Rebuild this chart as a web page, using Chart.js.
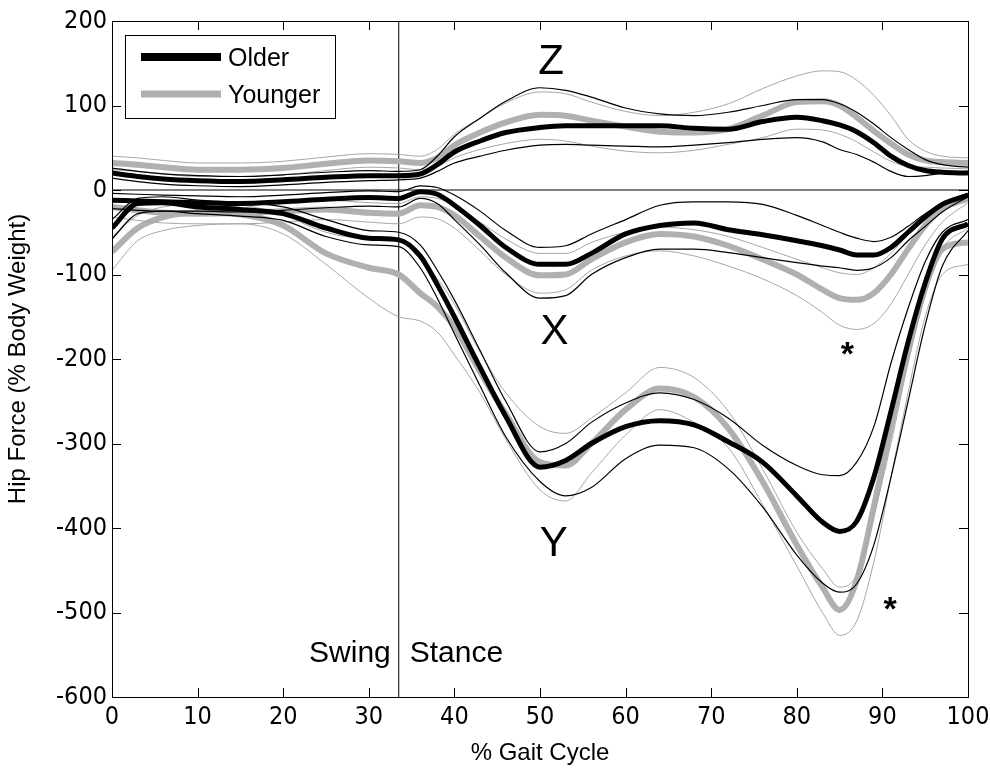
<!DOCTYPE html>
<html>
<head>
<meta charset="utf-8">
<script src="https://cdn.jsdelivr.net/npm/chart.js@4/dist/chart.umd.min.js"></script>
<style>
  body { margin: 0; background: #fff; }
  #wrap { width: 990px; height: 768px; }
</style>
</head>
<body>
<div id="wrap"><canvas id="grafico" width="990" height="768"></canvas></div>
<script>
// % ciclo da marcha (eixo x)
const gait = [0, 3, 6, 10, 15, 20, 25, 30, 33.5, 36, 38, 40, 43, 46, 50, 53, 56, 60, 64, 68, 72, 76, 80, 83, 85, 87, 89, 91, 93, 95, 97, 100];

// Componente Z
const zOldMean = [20, 16, 13, 11, 10, 12, 15, 17, 17, 19, 30, 45, 58, 68, 74, 76, 76, 76, 76, 73, 72, 81, 86, 82, 77, 69, 56, 40, 29, 23, 21, 20];
const zOldUp   = [26, 22, 19, 17, 16, 18, 21, 23, 22, 24, 40, 63, 85, 105, 121, 118, 110, 97, 90, 88, 92, 100, 107, 107, 102, 92, 78, 62, 48, 36, 30, 27];
const zOldLow  = [14, 10, 7, 5, 4, 6, 9, 11, 12, 14, 22, 32, 40, 47, 53, 54, 53, 52, 51, 53, 56, 60, 62, 57, 48, 42, 33, 22, 16, 17, 20, 22];
const zYngMean = [32, 30, 27, 24, 24, 26, 31, 35, 34, 32, 38, 53, 68, 80, 89, 88, 82, 75, 69, 68, 72, 88, 104, 105, 100, 86, 70, 55, 42, 35, 33, 32];
const zYngUp   = [40, 38, 35, 32, 32, 34, 39, 43, 42, 40, 48, 66, 85, 103, 116, 114, 104, 93, 88, 92, 102, 120, 135, 141, 140, 130, 112, 88, 60, 46, 40, 38];
const zYngLow  = [24, 22, 19, 16, 16, 18, 23, 27, 26, 24, 28, 38, 48, 55, 60, 58, 52, 46, 44, 47, 54, 62, 72, 71, 66, 57, 45, 34, 28, 27, 26, 25];

// Componente X
const xOldMean = [-12, -13, -14, -15, -16, -14, -11, -9, -10, -2, -5, -18, -42, -68, -88, -88, -75, -52, -42, -39, -47, -53, -60, -66, -71, -77, -77, -68, -50, -32, -17, -6];
const xOldUp   = [-4, -5, -6, -7, -8, -6, -3, -1, -2, 5, 3, -6, -25, -48, -68, -66, -52, -35, -18, -14, -14, -17, -30, -42, -50, -57, -61, -56, -43, -28, -16, -4];
const xOldLow  = [-22, -24, -25, -25, -26, -24, -21, -19, -20, -10, -16, -35, -65, -98, -128, -125, -100, -80, -70, -70, -74, -80, -86, -90, -92, -95, -92, -80, -60, -43, -26, -8];
const xYngMean = [-20, -24, -27, -28, -27, -25, -23, -27, -28, -18, -20, -30, -55, -80, -101, -100, -82, -62, -52, -55, -66, -82, -100, -118, -128, -130, -122, -100, -70, -42, -22, -10];
const xYngUp   = [-10, -13, -15, -16, -15, -14, -12, -15, -16, -8, -10, -18, -38, -58, -75, -75, -62, -50, -44, -47, -55, -68, -82, -92, -98, -100, -92, -75, -52, -30, -15, -5];
const xYngLow  = [-32, -36, -39, -40, -40, -38, -35, -38, -40, -32, -34, -45, -72, -100, -122, -118, -95, -78, -72, -78, -90, -105, -125, -145, -160, -165, -158, -135, -100, -65, -38, -15];

// Componente Y
const yOldMean = [-45, -16, -15, -20, -23, -28, -45, -57, -59, -78, -112, -150, -210, -268, -328, -320, -300, -280, -273, -278, -298, -322, -362, -393, -404, -392, -340, -262, -180, -110, -58, -40];
const yOldUp   = [-35, -10, -8, -12, -15, -20, -35, -48, -50, -65, -95, -130, -190, -250, -310, -300, -275, -252, -240, -248, -270, -302, -326, -337, -338, -322, -280, -205, -140, -85, -50, -35];
const yOldLow  = [-58, -28, -25, -28, -31, -36, -55, -65, -67, -92, -128, -170, -232, -292, -345, -362, -352, -318, -302, -305, -330, -375, -432, -465, -476, -466, -420, -340, -250, -160, -90, -48];
const yYngMean = [-73, -45, -32, -27, -29, -42, -75, -92, -100, -122, -138, -162, -215, -265, -322, -326, -300, -260, -235, -245, -282, -345, -420, -470, -497, -462, -375, -280, -190, -115, -70, -62];
const yYngUp   = [-55, -30, -20, -17, -18, -30, -50, -58, -60, -82, -105, -135, -192, -240, -280, -288, -270, -240, -210, -222, -262, -330, -405, -448, -470, -455, -385, -300, -205, -125, -70, -45];
const yYngLow  = [-95, -60, -48, -42, -40, -52, -88, -128, -150, -155, -168, -195, -240, -295, -355, -368, -335, -290, -260, -275, -305, -372, -445, -500, -527, -510, -440, -340, -240, -150, -100, -88];

const xTicks = [0, 10, 20, 30, 40, 50, 60, 70, 80, 90, 100];
const yTicks = [200, 100, 0, -100, -200, -300, -400, -500, -600];
const swingStance = 33.5;

const PRETO = '#000000';
const CINZA = '#b0b0b0';
const CINZA_FINO = '#a6a6a6';
const FONTE = '"Liberation Sans", Arial, sans-serif';
const FONTE_TICK = '"Liberation Sans Narrow", "DejaVu Sans Condensed", "Liberation Sans", Arial, sans-serif';

function serie(arr, cor, largura, ordem) {
    return {
        data: gait.map((x, i) => ({ x: x, y: arr[i] })),
        borderColor: cor,
        borderWidth: largura,
        pointRadius: 0,
        fill: false,
        cubicInterpolationMode: 'monotone',
        order: ordem
    };
}

const datasets = [
    // médias dos mais velhos por cima de tudo
    serie(zOldMean, PRETO, 5, 0),
    serie(xOldMean, PRETO, 5, 0),
    serie(yOldMean, PRETO, 5, 0),
    serie(zOldUp, PRETO, 1.2, 1), serie(zOldLow, PRETO, 1.2, 1),
    serie(xOldUp, PRETO, 1.2, 1), serie(xOldLow, PRETO, 1.2, 1),
    serie(yOldUp, PRETO, 1.2, 1), serie(yOldLow, PRETO, 1.2, 1),
    serie(zYngUp, CINZA_FINO, 1, 2), serie(zYngLow, CINZA_FINO, 1, 2),
    serie(xYngUp, CINZA_FINO, 1, 2), serie(xYngLow, CINZA_FINO, 1, 2),
    serie(yYngUp, CINZA_FINO, 1, 2), serie(yYngLow, CINZA_FINO, 1, 2),
    serie(zYngMean, CINZA, 6, 3),
    serie(xYngMean, CINZA, 6, 3),
    serie(yYngMean, CINZA, 6, 3),
    // linha do zero e divisão balanço / apoio
    { data: [{ x: 0, y: 0 }, { x: 100, y: 0 }], borderColor: PRETO, borderWidth: 1, pointRadius: 0, order: 4 },
    { data: [{ x: swingStance, y: -600 }, { x: swingStance, y: 200 }], borderColor: PRETO, borderWidth: 1, pointRadius: 0, order: 4 }
];

function linha(ctx, x1, y1, x2, y2) {
    ctx.beginPath();
    ctx.moveTo(x1, y1);
    ctx.lineTo(x2, y2);
    ctx.stroke();
}

const decoracao = {
    id: 'decoracao',
    afterDatasetsDraw(chart) {
        const { ctx, chartArea: a, scales: { x, y } } = chart;
        ctx.save();
        ctx.strokeStyle = PRETO;
        ctx.lineWidth = 1;
        ctx.strokeRect(Math.round(a.left) + 0.5, Math.round(a.top) + 0.5, Math.round(a.right - a.left), Math.round(a.bottom - a.top));

        // marcas para dentro, estilo matlab
        xTicks.forEach(v => {
            const px = Math.round(x.getPixelForValue(v)) + 0.5;
            linha(ctx, px, a.bottom, px, a.bottom - 9);
            linha(ctx, px, a.top, px, a.top + 9);
        });
        yTicks.forEach(v => {
            const py = Math.round(y.getPixelForValue(v)) + 0.5;
            linha(ctx, a.left, py, a.left + 9, py);
            linha(ctx, a.right, py, a.right - 9, py);
        });

        // rótulos das componentes
        ctx.fillStyle = PRETO;
        ctx.textAlign = 'center';
        ctx.textBaseline = 'middle';
        ctx.font = '42px ' + FONTE;
        ctx.fillText('Z', x.getPixelForValue(51.3), y.getPixelForValue(151));
        ctx.fillText('X', x.getPixelForValue(51.7), y.getPixelForValue(-168));
        ctx.fillText('Y', x.getPixelForValue(51.6), y.getPixelForValue(-420));

        ctx.font = 'bold 34px ' + FONTE;
        ctx.fillText('*', x.getPixelForValue(85.9), y.getPixelForValue(-187) + 8);
        ctx.fillText('*', x.getPixelForValue(90.9), y.getPixelForValue(-488) + 8);

        ctx.font = '30px ' + FONTE;
        ctx.textAlign = 'right';
        ctx.fillText('Swing', x.getPixelForValue(swingStance) - 8, y.getPixelForValue(-549));
        ctx.textAlign = 'left';
        ctx.fillText('Stance', x.getPixelForValue(swingStance) + 11, y.getPixelForValue(-549));

        // legenda
        const lx = 125, ly = 35, lw = 210, lh = 83;
        ctx.fillStyle = '#ffffff';
        ctx.fillRect(lx, ly, lw, lh);
        ctx.strokeRect(lx + 0.5, ly + 0.5, lw, lh);
        ctx.lineWidth = 8;
        ctx.strokeStyle = PRETO;
        linha(ctx, 141, 57, 221, 57);
        ctx.lineWidth = 7;
        ctx.strokeStyle = CINZA;
        linha(ctx, 141, 94, 221, 94);
        ctx.fillStyle = PRETO;
        ctx.font = '25px ' + FONTE;
        ctx.textAlign = 'left';
        ctx.fillText('Older', 228, 59);
        ctx.fillText('Younger', 228, 96);
        ctx.restore();
    }
};

new Chart(document.getElementById('grafico'), {
    type: 'line',
    data: { datasets: datasets },
    options: {
        responsive: false,
        animation: false,
        devicePixelRatio: 1,
        layout: { padding: { top: 21, right: 22, left: 4, bottom: 0 } },
        plugins: { legend: { display: false }, tooltip: { enabled: false } },
        scales: {
            x: {
                type: 'linear', min: 0, max: 100,
                grid: { display: false, drawTicks: false },
                border: { display: false },
                afterBuildTicks: s => { s.ticks = xTicks.map(v => ({ value: v })); },
                afterFit: s => { s.height = 71; s.paddingLeft = 0; s.paddingRight = 0; },
                ticks: { color: PRETO, padding: 5, maxRotation: 0, font: { family: FONTE_TICK, size: 25 } },
                title: { display: true, text: '% Gait Cycle', color: PRETO, padding: { top: 0, bottom: 0 }, font: { family: FONTE, size: 24 } }
            },
            y: {
                type: 'linear', min: -600, max: 200,
                grid: { display: false, drawTicks: false },
                border: { display: false },
                afterBuildTicks: s => { s.ticks = yTicks.map(v => ({ value: v })); },
                afterFit: s => { s.width = 108; s.paddingTop = 0; s.paddingBottom = 0; },
                ticks: { color: PRETO, padding: 5, font: { family: FONTE_TICK, size: 25 } },
                title: { display: true, text: 'Hip Force (% Body Weight)', color: PRETO, padding: { top: 0, bottom: 0 }, font: { family: FONTE, size: 24 } }
            }
        }
    },
    plugins: [decoracao]
});
</script>
</body>
</html>
